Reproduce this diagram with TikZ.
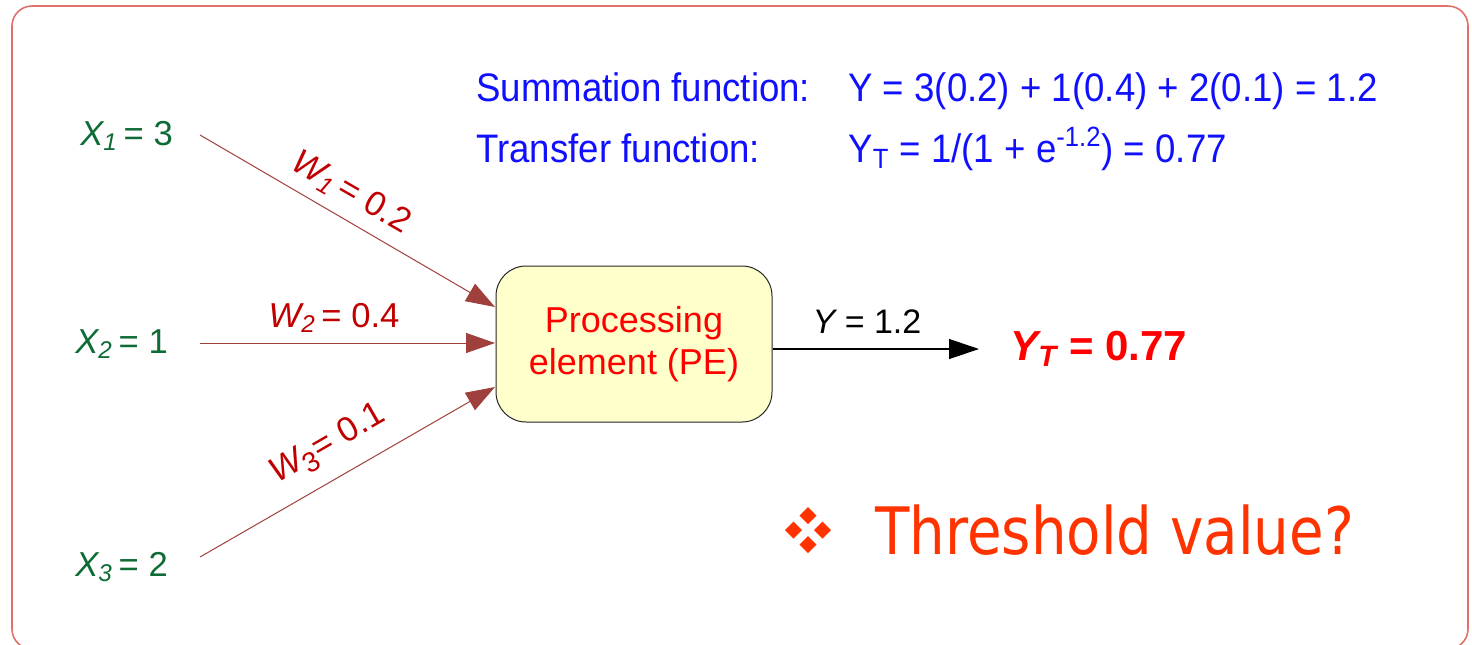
\documentclass[tikz,border=0pt]{standalone}
\usepackage{fontspec}
\setmainfont{Liberation Sans}
\newfontfamily\condfont[FakeStretch=0.92]{Liberation Sans}
\newfontfamily\thfont[FakeStretch=0.86]{DejaVu Sans}
\usetikzlibrary{arrows.meta}
\definecolor{framecol}{HTML}{E07068}
\definecolor{xgreen}{HTML}{0E6B35}
\definecolor{wred}{HTML}{C00000}
\definecolor{arrcol}{HTML}{A0403C}
\definecolor{boxfill}{HTML}{FFFFCC}
\definecolor{fblue}{HTML}{1010FF}
\definecolor{thcol}{HTML}{FF3300}
\tikzset{
  xlab/.style={text=xgreen, font=\fontsize{17.3}{20}\selectfont, inner sep=0pt},
  wlab/.style={text=wred, font=\fontsize{17.3}{20}\selectfont, inner sep=0pt},
  inarrow/.style={draw=arrcol, line width=0.5pt, -{Triangle[length=14.5pt, width=10pt]}},
  outarrow/.style={draw=black, line width=0.6pt, -{Triangle[length=15pt, width=10pt]}},
  pebox/.style={draw=black!85, line width=0.5pt, fill=boxfill, rounded corners=15pt,
    minimum width=138pt, minimum height=78pt, align=center, text=red,
    font=\fontsize{18}{21}\selectfont, inner sep=0pt},
  ftext/.style={text=fblue, font=\condfont\fontsize{19.9}{23}\selectfont, anchor=base west, inner sep=0pt}
}
\begin{document}
\begin{tikzpicture}[x=0.5pt,y=-0.5pt]
\useasboundingbox (0,0) rectangle (1472,644);
\draw[framecol, line width=0.8pt, rounded corners=10pt] (12,6) rectangle (1468,649);

% processing element
\node[pebox] (pe) at (634,344) {Processing\\element (PE)};

% inputs
\node[xlab, anchor=west] (x1) at (80,136) {\itshape X\textsubscript{1}\upshape\,= 3};
\node[xlab, anchor=west] (x2) at (75,344) {\itshape X\textsubscript{2}\upshape\,= 1};
\node[xlab, anchor=west] (x3) at (75,567) {\itshape X\textsubscript{3}\upshape\,= 2};

\coordinate (s1) at (200,135);
\coordinate (s2) at (200,343);
\coordinate (s3) at (200,557);
\coordinate (t1) at (495,307);
\coordinate (t2) at (495,343);
\coordinate (t3) at (495,387);

\draw[inarrow] (s1) -- (t1);
\draw[inarrow] (s2) -- (t2);
\draw[inarrow] (s3) -- (t3);

\node[wlab, rotate=-30] (w1) at (351,193) {\itshape W\textsubscript{1}\upshape\,= 0.2};
\node[wlab] (w2) at (334,318) {\itshape W\textsubscript{2}\upshape\,= 0.4};
\node[wlab, rotate=30] (w3) at (328,445) {\itshape W\textsubscript{\upshape\fontsize{14}{16}\selectfont 3}\upshape= 0.1};

% output
\coordinate (oend) at (979,349);
\draw[outarrow] (pe.east |- oend) -- (oend);
\node[inner sep=0pt, font=\fontsize{17}{20}\selectfont] (ylab) at (867,322) {\itshape Y\upshape\ = 1.2};
\node[inner sep=0pt, anchor=west, text=red, font=\bfseries\fontsize{21}{24}\selectfont] (yt) at (1010,349) {\itshape Y\textsubscript{T}\upshape\ = 0.77};

% functions
\node[ftext] (sf) at (476,101) {Summation function:};
\node[ftext] (se) at (848,101) {Y = 3(0.2) + 1(0.4) + 2(0.1) = 1.2};
\node[ftext] (tf) at (476,162) {Transfer function:};
\node[ftext] (te) at (848,162) {Y\textsubscript{T} = 1/(1 + e\textsuperscript{-1.2}) = 0.77};

% threshold bullet
\fill[thcol] (808,507) -- (816.5,515.5) -- (808,524) -- (799.5,515.5) -- cycle;
\fill[thcol] (808,536) -- (816.5,544.5) -- (808,553) -- (799.5,544.5) -- cycle;
\fill[thcol] (793.5,521.5) -- (802,530) -- (793.5,538.5) -- (785,530) -- cycle;
\fill[thcol] (822.5,521.5) -- (831,530) -- (822.5,538.5) -- (814,530) -- cycle;
\node[inner sep=0pt, anchor=base west, text=thcol, font=\thfont\fontsize{32.7}{38}\selectfont] (th) at (875,554) {Threshold value?};
\end{tikzpicture}
\end{document}
